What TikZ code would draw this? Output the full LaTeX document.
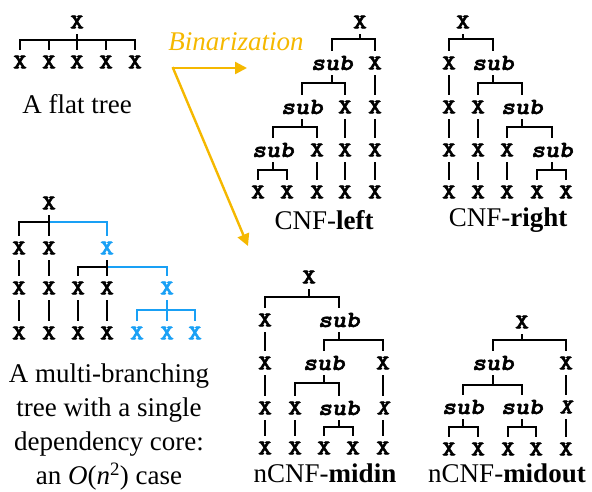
\documentclass[tikz,border=0pt]{standalone}
\usepackage{fontspec}
\setmainfont{Liberation Serif}
\newfontfamily\xmono{lmmonolt10-bold.otf}[FakeBold=2.5, FakeStretch=1.25]
\newfontfamily\xmonosl{lmmonolt10-boldoblique.otf}[FakeBold=2.5, FakeStretch=1.15]
\usetikzlibrary{arrows.meta}
\definecolor{binorange}{RGB}{245,184,0}
\definecolor{depblue}{RGB}{25,160,245}
\newcommand{\xfont}{\xmono\fontsize{21}{21}\selectfont}
\newcommand{\itxfont}{\xmonosl\fontsize{21}{21}\selectfont}
\newcommand{\subfont}{\xmonosl\fontsize{23}{23}\selectfont}
\newcommand{\capfont}{\fontsize{27}{34}\selectfont}

\begin{document}
\begin{tikzpicture}[x=1pt, y=-1pt,
    xn/.style={font=\xfont, inner sep=0pt, minimum height=24pt},
    ix/.style={font=\itxfont, inner sep=0pt, minimum height=24pt},
    sn/.style={font=\subfont, inner sep=0pt, minimum height=24pt},
    branch/.style={line width=1.8pt},
    capnode/.style={font=\capfont, inner sep=0pt, align=center},
    binarrow/.style={line width=2.4pt, binorange, -{Triangle[length=12pt,width=12pt]}}]
        \useasboundingbox (0,0) rectangle (592,491);
        % Flat tree
        \node[xn] (f0) at (77,22) {X};
        \node[xn] (f1) at (20,62) {X};
        \node[xn] (f2) at (49,62) {X};
        \node[xn] (f3) at (77,62) {X};
        \node[xn] (f4) at (106,62) {X};
        \node[xn] (f5) at (135,62) {X};
        \foreach \c in {f1,f2,f3,f4,f5}
            \draw[branch] (f0.south) -- ++(0,6) -| (\c.north);
        \node[capnode] (fcap) at (77,104) {A flat tree};

        % Binarization arrows
        \node[font=\capfont\itshape, text=binorange] (bin) at (236,42) {Binarization};
        \coordinate (bz) at (173,68);
        \coordinate (bl) at (247,68);
        \coordinate (bm) at (248,246);
        \draw[binarrow] (bz) -- (bl);
        \draw[binarrow, shorten <=-1pt] (bz) -- (bm);

        % CNF-left
        \node[xn] (L0) at (360,22) {X};
        \node[sn] (La) at (332,63) {sub};
        \node[xn] (Lb) at (375,63) {X};
        \node[sn] (Lc) at (302,107) {sub};
        \node[xn] (Ld) at (345,107) {X};
        \node[xn] (Le) at (375,107) {X};
        \node[sn] (Lf) at (273,150) {sub};
        \node[xn] (Lg) at (317,150) {X};
        \node[xn] (Lh) at (345,150) {X};
        \node[xn] (Li) at (375,150) {X};
        \node[xn] (L1) at (258,192) {X};
        \node[xn] (L2) at (287,192) {X};
        \node[xn] (L3) at (317,192) {X};
        \node[xn] (L4) at (345,192) {X};
        \node[xn] (L5) at (375,192) {X};
        \foreach \c in {La,Lb} \draw[branch] (L0.south) -- ++(0,5) -| (\c.north);
        \foreach \c in {Lc,Ld} \draw[branch] (La.south) -- ++(0,8) -| (\c.north);
        \foreach \c in {Lf,Lg} \draw[branch] (Lc.south) -- ++(0,8) -| (\c.north);
        \foreach \c in {L1,L2} \draw[branch] (Lf.south) -- ++(0,8) -| (\c.north);
        \draw[branch] (Lb.south) -- (Le.north);
        \draw[branch] (Le.south) -- (Li.north);
        \draw[branch] (Li.south) -- (L5.north);
        \draw[branch] (Ld.south) -- (Lh.north);
        \draw[branch] (Lh.south) -- (L4.north);
        \draw[branch] (Lg.south) -- (L3.north);
        \node[capnode] (lcap) at (324,220) {CNF-\textbf{left}};

        % CNF-right
        \node[xn] (R0) at (463,22) {X};
        \node[xn] (Ra) at (449,63) {X};
        \node[sn] (Rb) at (493,63) {sub};
        \node[xn] (Re) at (449,107) {X};
        \node[xn] (Rc) at (478,107) {X};
        \node[sn] (Rd) at (522,107) {sub};
        \node[xn] (Rh) at (449,150) {X};
        \node[xn] (Ri) at (478,150) {X};
        \node[xn] (Rf) at (507,150) {X};
        \node[sn] (Rg) at (552,150) {sub};
        \node[xn] (R1) at (449,192) {X};
        \node[xn] (R2) at (478,192) {X};
        \node[xn] (R3) at (507,192) {X};
        \node[xn] (R4) at (537,192) {X};
        \node[xn] (R5) at (566,192) {X};
        \foreach \c in {Ra,Rb} \draw[branch] (R0.south) -- ++(0,5) -| (\c.north);
        \foreach \c in {Rc,Rd} \draw[branch] (Rb.south) -- ++(0,8) -| (\c.north);
        \foreach \c in {Rf,Rg} \draw[branch] (Rd.south) -- ++(0,8) -| (\c.north);
        \foreach \c in {R4,R5} \draw[branch] (Rg.south) -- ++(0,8) -| (\c.north);
        \draw[branch] (Ra.south) -- (Re.north);
        \draw[branch] (Re.south) -- (Rh.north);
        \draw[branch] (Rh.south) -- (R1.north);
        \draw[branch] (Rc.south) -- (Ri.north);
        \draw[branch] (Ri.south) -- (R2.north);
        \draw[branch] (Rf.south) -- (R3.north);
        \node[capnode] (rcap) at (508,220) {CNF-\textbf{right}};

        % Multi-branching tree, dependency core in blue
        \node[xn] (M0) at (49,203) {X};
        \node[xn] (Ma) at (19,248) {X};
        \node[xn] (Mb) at (49,248) {X};
        \node[xn, text=depblue] (Mc) at (107,248) {X};
        \node[xn] (Md) at (19,288) {X};
        \node[xn] (Me) at (49,288) {X};
        \node[xn] (Mi) at (78,288) {X};
        \node[xn] (Mj) at (107,288) {X};
        \node[xn, text=depblue] (Mk) at (167,288) {X};
        \node[xn] (Mg) at (19,333) {X};
        \node[xn] (Mh) at (49,333) {X};
        \node[xn] (Ml) at (78,333) {X};
        \node[xn] (Mm) at (107,333) {X};
        \node[xn, text=depblue] (Mn) at (137,333) {X};
        \node[xn, text=depblue] (Mo) at (167,333) {X};
        \node[xn, text=depblue] (Mp) at (195,333) {X};
        \draw[branch, depblue] (M0.south) -- ++(0,7) -| (Mc.north);
        \foreach \c in {Ma,Mb} \draw[branch] (M0.south) -- ++(0,7) -| (\c.north);
        \draw[branch, depblue] (Mc.south) -- ++(0,7) -| (Mk.north);
        \foreach \c in {Mi,Mj} \draw[branch] (Mc.south) -- ++(0,7) -| (\c.north);
        \foreach \c in {Mn,Mo,Mp} \draw[branch, depblue] (Mk.south) -- ++(0,10) -| (\c.north);
        \draw[branch] (Ma.south) -- (Md.north);
        \draw[branch] (Md.south) -- (Mg.north);
        \draw[branch] (Mb.south) -- (Me.north);
        \draw[branch] (Me.south) -- (Mh.north);
        \draw[branch] (Mi.south) -- (Ml.north);
        \draw[branch] (Mj.south) -- (Mm.north);
        \node[capnode] (mcap) at (109,427) {A multi-branching\\tree with a single\\dependency core:\\an \textit{O}(\textit{n}\textsuperscript{2}) case};

        % nCNF-midin
        \node[xn] (I0) at (309,277) {X};
        \node[xn] (Ia) at (265,320) {X};
        \node[sn] (Ib) at (339,320) {sub};
        \node[xn] (Ic) at (265,363) {X};
        \node[sn] (Id) at (324,363) {sub};
        \node[xn] (Ie) at (383,363) {X};
        \node[xn] (If) at (265,408) {X};
        \node[xn] (Ig) at (295,408) {X};
        \node[sn] (Ih) at (339,408) {sub};
        \node[ix] (Ii) at (383,408) {X};
        \node[xn] (I1) at (265,448) {X};
        \node[xn] (I2) at (295,448) {X};
        \node[xn] (I3) at (324,448) {X};
        \node[xn] (I4) at (353,448) {X};
        \node[xn] (I5) at (383,448) {X};
        \foreach \c in {Ia,Ib} \draw[branch] (I0.south) -- ++(0,8) -| (\c.north);
        \foreach \c in {Id,Ie} \draw[branch] (Ib.south) -- ++(0,8) -| (\c.north);
        \foreach \c in {Ig,Ih} \draw[branch] (Id.south) -- ++(0,8) -| (\c.north);
        \foreach \c in {I3,I4} \draw[branch] (Ih.south) -- ++(0,7) -| (\c.north);
        \draw[branch] (Ia.south) -- (Ic.north);
        \draw[branch] (Ic.south) -- (If.north);
        \draw[branch] (If.south) -- (I1.north);
        \draw[branch] (Ig.south) -- (I2.north);
        \draw[branch] (Ie.south) -- (Ii.north);
        \draw[branch] (Ii.south) -- (I5.north);
        \node[capnode] (icap) at (325,473) {nCNF-\textbf{midin}};

        % nCNF-midout
        \node[xn] (O0) at (522,322) {X};
        \node[sn] (Oa) at (493,363) {sub};
        \node[xn] (Ob) at (566,363) {X};
        \node[sn] (Oc) at (463,407) {sub};
        \node[sn] (Od) at (522,407) {sub};
        \node[ix] (Oe) at (566,407) {X};
        \node[xn] (O1) at (449,449) {X};
        \node[xn] (O2) at (478,449) {X};
        \node[xn] (O3) at (508,449) {X};
        \node[xn] (O4) at (536,449) {X};
        \node[xn] (O5) at (566,449) {X};
        \foreach \c in {Oa,Ob} \draw[branch] (O0.south) -- ++(0,6) -| (\c.north);
        \foreach \c in {Oc,Od} \draw[branch] (Oa.south) -- ++(0,10) -| (\c.north);
        \foreach \c in {O1,O2} \draw[branch] (Oc.south) -- ++(0,8) -| (\c.north);
        \foreach \c in {O3,O4} \draw[branch] (Od.south) -- ++(0,8) -| (\c.north);
        \draw[branch] (Ob.south) -- (Oe.north);
        \draw[branch] (Oe.south) -- (O5.north);
        \node[capnode] (ocap) at (507,473) {nCNF-\textbf{midout}};
    \end{tikzpicture}
\end{document}
